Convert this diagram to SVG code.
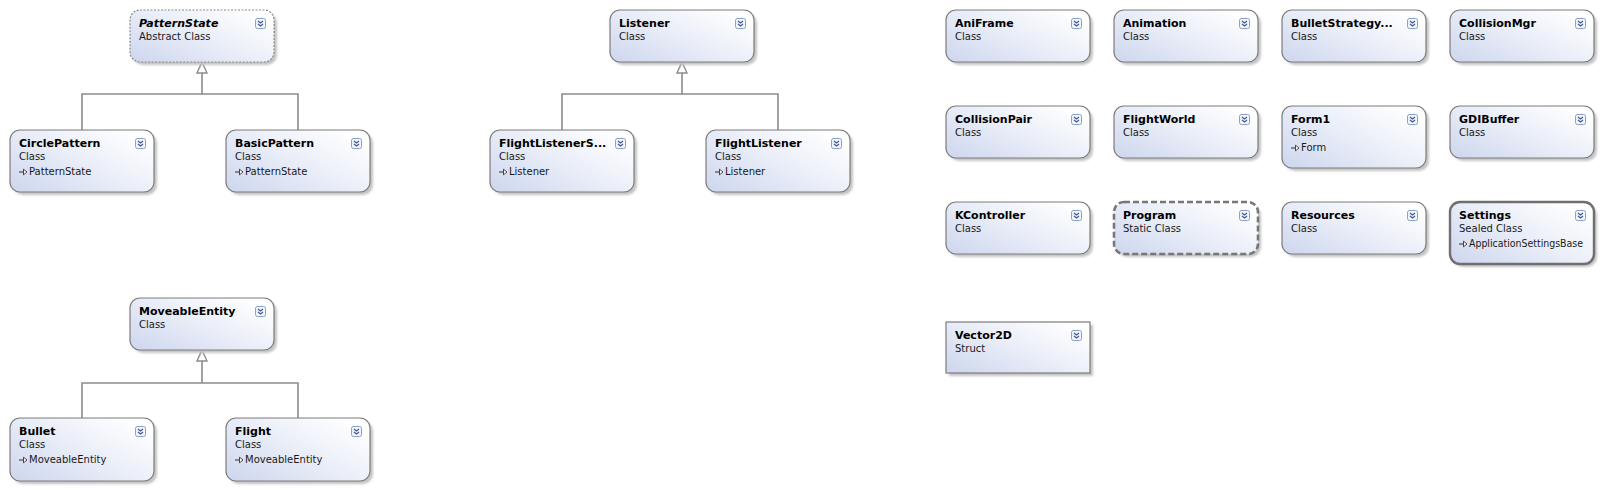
<svg xmlns="http://www.w3.org/2000/svg" xmlns:xlink="http://www.w3.org/1999/xlink" width="1603" height="490" viewBox="0 0 1603 490">
<defs>
<linearGradient id="fillg" x1="0" y1="1" x2="1" y2="0.2">
<stop offset="0" stop-color="#cdd6ee"/>
<stop offset="0.55" stop-color="#eaeef8"/>
<stop offset="1" stop-color="#ffffff"/>
</linearGradient>
<filter id="sh" x="-10%" y="-10%" width="130%" height="140%">
<feGaussianBlur stdDeviation="1.2"/>
</filter>
<g id="icon">
<rect x="0.5" y="0.5" width="10" height="10" rx="2" fill="#f2f5fb" stroke="#8aa0c8" stroke-width="1"/>
<path d="M3,3 L5.5,5 L8,3 M3,6 L5.5,8 L8,6" fill="none" stroke="#3d5a96" stroke-width="1.2"/>
</g>
<g id="inh">
<path d="M0,0 H5" stroke="#333" stroke-width="1" fill="none"/>
<path d="M4.5,-2.8 L8,0 L4.5,2.8 Z" fill="#fff" stroke="#333" stroke-width="0.9"/>
</g>
</defs>
<style>
.box{fill:url(#fillg);stroke:#7c7c7c;stroke-width:1.2}
.abs{stroke-dasharray:2,1.5;stroke:#8a8a8a}
.static{stroke:#777;stroke-width:2.6;stroke-dasharray:6,3}
.sealed{stroke:#6f6f6f;stroke-width:2.4}
.shadow{fill:#c4c4c4;filter:url(#sh)}
.t{font-family:"DejaVu Sans",sans-serif;font-size:11px;font-weight:bold;fill:#000}
.ti{font-style:italic}
.s{font-family:"DejaVu Sans",sans-serif;font-size:10px;fill:#1a1a1a}
.b{font-family:"DejaVu Sans",sans-serif;font-size:10px;fill:#1a1a1a}
.conn{fill:none;stroke:#8c8c8c;stroke-width:1.6}
.tri{fill:#fff;stroke:#8c8c8c;stroke-width:1.4}
</style>
<rect width="1603" height="490" fill="#fff"/>

<g id="connectors">
<path class="conn" d="M202,73 V94 M82,130 V94 H298 V130"/>
<path class="tri" d="M202,62 L207,73 L197,73 Z"/>
<path class="conn" d="M682,73 V94 M562,130 V94 H778 V130"/>
<path class="tri" d="M682,62 L687,73 L677,73 Z"/>
<path class="conn" d="M202,361 V383 M82,418 V383 H298 V418"/>
<path class="tri" d="M202,350 L207,361 L197,361 Z"/>
</g>

<g id="PatternState" transform="translate(130,10)">
<rect class="shadow" x="3" y="3" width="144" height="52" rx="10"/>
<rect class="box abs" x="0" y="0" width="144" height="52" rx="10"/>
<text class="t ti" x="9" y="17">PatternState</text>
<text class="s" x="9" y="30">Abstract Class</text>
<use href="#icon" x="125" y="8"/>
</g>

<g id="CirclePattern" transform="translate(10,130)">
<rect class="shadow" x="3" y="3" width="144" height="62" rx="10"/>
<rect class="box" x="0" y="0" width="144" height="62" rx="10"/>
<text class="t" x="9" y="17">CirclePattern</text>
<text class="s" x="9" y="30">Class</text>
<use href="#inh" x="9" y="42"/>
<text class="b" x="19" y="45">PatternState</text>
<use href="#icon" x="125" y="8"/>
</g>

<g id="BasicPattern" transform="translate(226,130)">
<rect class="shadow" x="3" y="3" width="144" height="62" rx="10"/>
<rect class="box" x="0" y="0" width="144" height="62" rx="10"/>
<text class="t" x="9" y="17">BasicPattern</text>
<text class="s" x="9" y="30">Class</text>
<use href="#inh" x="9" y="42"/>
<text class="b" x="19" y="45">PatternState</text>
<use href="#icon" x="125" y="8"/>
</g>

<g id="Listener" transform="translate(610,10)">
<rect class="shadow" x="3" y="3" width="144" height="52" rx="10"/>
<rect class="box" x="0" y="0" width="144" height="52" rx="10"/>
<text class="t" x="9" y="17">Listener</text>
<text class="s" x="9" y="30">Class</text>
<use href="#icon" x="125" y="8"/>
</g>

<g id="FlightListenerS" transform="translate(490,130)">
<rect class="shadow" x="3" y="3" width="144" height="62" rx="10"/>
<rect class="box" x="0" y="0" width="144" height="62" rx="10"/>
<text class="t" x="9" y="17">FlightListenerS...</text>
<text class="s" x="9" y="30">Class</text>
<use href="#inh" x="9" y="42"/>
<text class="b" x="19" y="45">Listener</text>
<use href="#icon" x="125" y="8"/>
</g>

<g id="FlightListener" transform="translate(706,130)">
<rect class="shadow" x="3" y="3" width="144" height="62" rx="10"/>
<rect class="box" x="0" y="0" width="144" height="62" rx="10"/>
<text class="t" x="9" y="17">FlightListener</text>
<text class="s" x="9" y="30">Class</text>
<use href="#inh" x="9" y="42"/>
<text class="b" x="19" y="45">Listener</text>
<use href="#icon" x="125" y="8"/>
</g>

<g id="MoveableEntity" transform="translate(130,298)">
<rect class="shadow" x="3" y="3" width="144" height="52" rx="10"/>
<rect class="box" x="0" y="0" width="144" height="52" rx="10"/>
<text class="t" x="9" y="17">MoveableEntity</text>
<text class="s" x="9" y="30">Class</text>
<use href="#icon" x="125" y="8"/>
</g>

<g id="Bullet" transform="translate(10,418)">
<rect class="shadow" x="3" y="3" width="144" height="63" rx="10"/>
<rect class="box" x="0" y="0" width="144" height="63" rx="10"/>
<text class="t" x="9" y="17">Bullet</text>
<text class="s" x="9" y="30">Class</text>
<use href="#inh" x="9" y="42"/>
<text class="b" x="19" y="45">MoveableEntity</text>
<use href="#icon" x="125" y="8"/>
</g>

<g id="Flight" transform="translate(226,418)">
<rect class="shadow" x="3" y="3" width="144" height="63" rx="10"/>
<rect class="box" x="0" y="0" width="144" height="63" rx="10"/>
<text class="t" x="9" y="17">Flight</text>
<text class="s" x="9" y="30">Class</text>
<use href="#inh" x="9" y="42"/>
<text class="b" x="19" y="45">MoveableEntity</text>
<use href="#icon" x="125" y="8"/>
</g>

<g id="AniFrame" transform="translate(946,10)">
<rect class="shadow" x="3" y="3" width="144" height="52" rx="10"/>
<rect class="box" x="0" y="0" width="144" height="52" rx="10"/>
<text class="t" x="9" y="17">AniFrame</text>
<text class="s" x="9" y="30">Class</text>
<use href="#icon" x="125" y="8"/>
</g>

<g id="Animation" transform="translate(1114,10)">
<rect class="shadow" x="3" y="3" width="144" height="52" rx="10"/>
<rect class="box" x="0" y="0" width="144" height="52" rx="10"/>
<text class="t" x="9" y="17">Animation</text>
<text class="s" x="9" y="30">Class</text>
<use href="#icon" x="125" y="8"/>
</g>

<g id="BulletStrategy" transform="translate(1282,10)">
<rect class="shadow" x="3" y="3" width="144" height="52" rx="10"/>
<rect class="box" x="0" y="0" width="144" height="52" rx="10"/>
<text class="t" x="9" y="17">BulletStrategy...</text>
<text class="s" x="9" y="30">Class</text>
<use href="#icon" x="125" y="8"/>
</g>

<g id="CollisionMgr" transform="translate(1450,10)">
<rect class="shadow" x="3" y="3" width="144" height="52" rx="10"/>
<rect class="box" x="0" y="0" width="144" height="52" rx="10"/>
<text class="t" x="9" y="17">CollisionMgr</text>
<text class="s" x="9" y="30">Class</text>
<use href="#icon" x="125" y="8"/>
</g>

<g id="CollisionPair" transform="translate(946,106)">
<rect class="shadow" x="3" y="3" width="144" height="52" rx="10"/>
<rect class="box" x="0" y="0" width="144" height="52" rx="10"/>
<text class="t" x="9" y="17">CollisionPair</text>
<text class="s" x="9" y="30">Class</text>
<use href="#icon" x="125" y="8"/>
</g>

<g id="FlightWorld" transform="translate(1114,106)">
<rect class="shadow" x="3" y="3" width="144" height="52" rx="10"/>
<rect class="box" x="0" y="0" width="144" height="52" rx="10"/>
<text class="t" x="9" y="17">FlightWorld</text>
<text class="s" x="9" y="30">Class</text>
<use href="#icon" x="125" y="8"/>
</g>

<g id="Form1" transform="translate(1282,106)">
<rect class="shadow" x="3" y="3" width="144" height="62" rx="10"/>
<rect class="box" x="0" y="0" width="144" height="62" rx="10"/>
<text class="t" x="9" y="17">Form1</text>
<text class="s" x="9" y="30">Class</text>
<use href="#inh" x="9" y="42"/>
<text class="b" x="19" y="45">Form</text>
<use href="#icon" x="125" y="8"/>
</g>

<g id="GDIBuffer" transform="translate(1450,106)">
<rect class="shadow" x="3" y="3" width="144" height="52" rx="10"/>
<rect class="box" x="0" y="0" width="144" height="52" rx="10"/>
<text class="t" x="9" y="17">GDIBuffer</text>
<text class="s" x="9" y="30">Class</text>
<use href="#icon" x="125" y="8"/>
</g>

<g id="KController" transform="translate(946,202)">
<rect class="shadow" x="3" y="3" width="144" height="52" rx="10"/>
<rect class="box" x="0" y="0" width="144" height="52" rx="10"/>
<text class="t" x="9" y="17">KController</text>
<text class="s" x="9" y="30">Class</text>
<use href="#icon" x="125" y="8"/>
</g>

<g id="Program" transform="translate(1114,202)">
<rect class="shadow" x="3" y="3" width="144" height="52" rx="10"/>
<rect class="box static" x="0" y="0" width="144" height="52" rx="10"/>
<text class="t" x="9" y="17">Program</text>
<text class="s" x="9" y="30">Static Class</text>
<use href="#icon" x="125" y="8"/>
</g>

<g id="Resources" transform="translate(1282,202)">
<rect class="shadow" x="3" y="3" width="144" height="52" rx="10"/>
<rect class="box" x="0" y="0" width="144" height="52" rx="10"/>
<text class="t" x="9" y="17">Resources</text>
<text class="s" x="9" y="30">Class</text>
<use href="#icon" x="125" y="8"/>
</g>

<g id="Settings" transform="translate(1450,202)">
<rect class="shadow" x="3" y="3" width="144" height="62" rx="10"/>
<rect class="box sealed" x="0" y="0" width="144" height="62" rx="10"/>
<text class="t" x="9" y="17">Settings</text>
<text class="s" x="9" y="30">Sealed Class</text>
<use href="#inh" x="9" y="42"/>
<text class="b" x="19" y="45" textLength="114" lengthAdjust="spacingAndGlyphs">ApplicationSettingsBase</text>
<use href="#icon" x="125" y="8"/>
</g>

<g id="Vector2D" transform="translate(946,322)">
<rect class="shadow" x="3" y="3" width="144" height="51"/>
<rect class="box" x="0" y="0" width="144" height="51"/>
<text class="t" x="9" y="17">Vector2D</text>
<text class="s" x="9" y="30">Struct</text>
<use href="#icon" x="125" y="8"/>
</g>
</svg>
